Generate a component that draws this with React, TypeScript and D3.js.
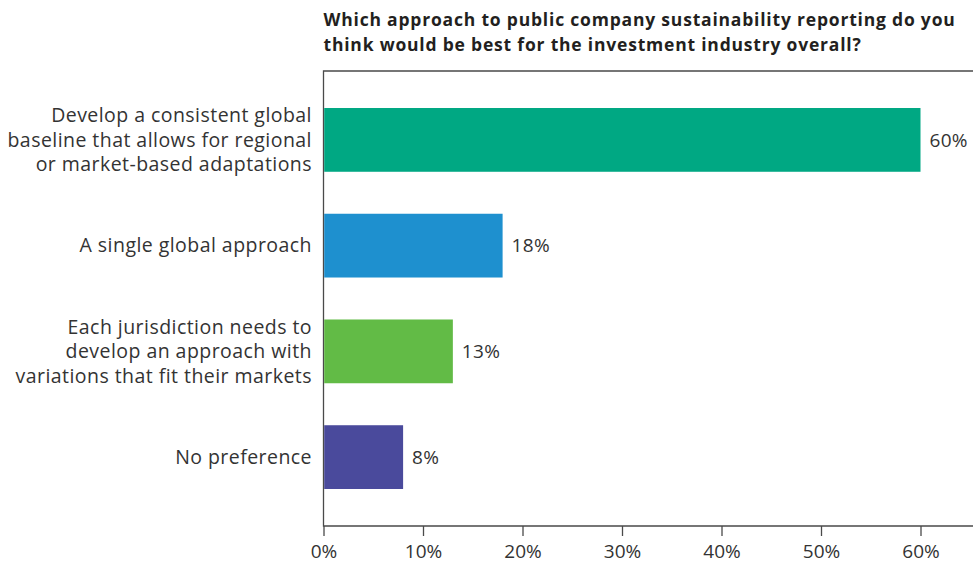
import { useEffect, useRef } from "react"
import * as d3 from "d3"

const titleLines = [
  "Which approach to public company sustainability reporting do you",
  "think would be best for the investment industry overall?",
]

const categories = [
  ["Develop a consistent global", "baseline that allows for regional", "or market-based adaptations"],
  ["A single global approach"],
  ["Each jurisdiction needs to", "develop an approach with", "variations that fit their markets"],
  ["No preference"],
]

const values = [60, 18, 13, 8]
const barColors = ["#00a883", "#1e90cf", "#62bb46", "#4a4a9c"]
const tickValues = [0, 10, 20, 30, 40, 50, 60]

const App = () => {
  const svgRef = useRef<SVGSVGElement>(null)

  useEffect(() => {
    const svg = d3.select(svgRef.current)
    svg.selectAll("*").remove()

    const width = 973
    const height = 567
    const top = 71
    const bottom = 526
    const left = 323.5
    const font = "'Open Sans', 'Noto Sans', sans-serif"

    svg.attr("width", width).attr("height", height)

    const x = d3.scaleLinear().domain([0, 60]).range([left, 920.5])
    const y = d3
      .scaleBand<number>()
      .domain(d3.range(values.length))
      .range([top, bottom])
      .paddingInner(0.397)
      .paddingOuter(0.35)

    // title
    svg
      .append("text")
      .attr("font-family", font)
      .attr("font-weight", "bold")
      .attr("font-size", 17.5)
      .attr("letter-spacing", 0.8)
      .attr("fill", "#231f20")
      .selectAll("tspan")
      .data(titleLines)
      .enter()
      .append("tspan")
      .attr("x", left)
      .attr("y", (d, i) => 26 + i * 25)
      .text((d) => d)

    // frame
    svg
      .append("path")
      .attr("d", `M${width},${top}H${left}V${bottom}H${width}`)
      .attr("fill", "none")
      .attr("stroke", "#4a4a4a")
      .attr("stroke-width", 1.3)

    // bars
    svg
      .selectAll(".bar")
      .data(values)
      .enter()
      .append("rect")
      .attr("class", "bar")
      .attr("x", x(0) + 0.7)
      .attr("y", (d, i) => y(i) || 0)
      .attr("width", (d) => x(d) - x(0) - 0.7)
      .attr("height", y.bandwidth())
      .attr("fill", (d, i) => barColors[i])

    // value labels
    svg
      .selectAll(".val")
      .data(values)
      .enter()
      .append("text")
      .attr("class", "val")
      .attr("x", (d) => x(d) + 9)
      .attr("y", (d, i) => (y(i) || 0) + y.bandwidth() / 2)
      .attr("dy", "0.35em")
      .attr("font-family", font)
      .attr("font-size", 19)
      .attr("letter-spacing", 0.3)
      .attr("fill", "#333")
      .text((d) => `${d}%`)

    // category labels
    const cat = svg
      .selectAll(".cat")
      .data(categories)
      .enter()
      .append("text")
      .attr("class", "cat")
      .attr("text-anchor", "end")
      .attr("font-family", font)
      .attr("font-size", 19.5)
      .attr("letter-spacing", 0.45)
      .attr("fill", "#333")

    cat
      .selectAll("tspan")
      .data((d, i) => d.map((line, j) => ({ line, j, n: d.length, i })))
      .enter()
      .append("tspan")
      .attr("x", 312)
      .attr("y", (d) => (y(d.i) || 0) + y.bandwidth() / 2 + (d.j - (d.n - 1) / 2) * 24.5)
      .attr("dy", "0.35em")
      .text((d) => d.line)

    // x axis
    const axis = svg
      .append("g")
      .attr("transform", `translate(0,${bottom})`)
      .call(
        d3
          .axisBottom(x)
          .tickValues(tickValues)
          .tickSize(10)
          .tickPadding(9)
          .tickFormat((d) => `${d}%`),
      )
    axis.select(".domain").remove()
    axis.selectAll("line").attr("stroke", "#4a4a4a").attr("stroke-width", 1.3)
    axis
      .selectAll("text")
      .attr("font-family", font)
      .attr("font-size", 19)
      .attr("fill", "#333")
  }, [])

  return <svg ref={svgRef} style={{ display: "block", position: "absolute", left: 0, top: 0 }}></svg>
}

export default App
